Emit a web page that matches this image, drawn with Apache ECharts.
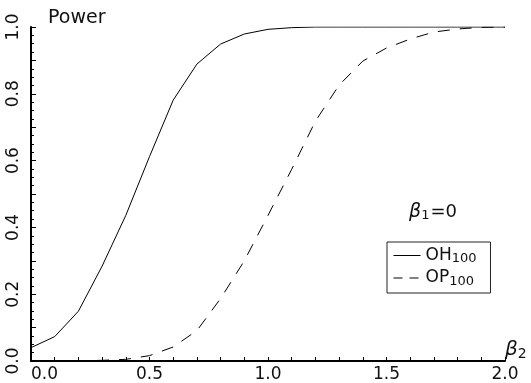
<!DOCTYPE html>
<html>
<head>
<meta charset="utf-8">
<script src="https://cdn.jsdelivr.net/npm/echarts@6/dist/echarts.min.js"></script>
<style>
  html, body {margin: 0; padding: 0; background: #fff;}
  #chart {width: 531px; height: 383px;}
</style>
</head>
<body>
<div id="chart"></div>
<script>
// beta2 grid and power values
const beta2 = [0.0, 0.1, 0.2, 0.3, 0.4, 0.5, 0.6, 0.7, 0.8, 0.9, 1.0,
               1.1, 1.2, 1.3, 1.4, 1.5, 1.6, 1.7, 1.8, 1.9, 2.0]
const oh100 = [0.04, 0.073, 0.149, 0.284, 0.436, 0.612, 0.781, 0.889, 0.949, 0.979, 0.993,
               0.998, 1.0, 1.0, 1.0, 1.0, 1.0, 1.0, 1.0, 1.0, 1.0]
const op100 = [0.0, 0.0, 0.001, 0.002, 0.005, 0.016, 0.042, 0.091, 0.187, 0.300, 0.436,
               0.574, 0.718, 0.826, 0.898, 0.937, 0.964, 0.985, 0.994, 0.999, 1.0]
const xTickLabels = ['0.0', '0.5', '1.0', '1.5', '2.0']
const yTickLabels = ['0.0', '0.2', '0.4', '0.6', '0.8', '1.0']

const font = 'DejaVu Sans'
const ink = '#111'

const chart = echarts.init(document.getElementById('chart'))

const pairs = (ys) => beta2.map((x, i) => [x, ys[i]])

const option = {
    animation: false,
    textStyle: {fontFamily: font, color: ink},
    grid: {left: 31, right: 26, top: 27, bottom: 22},
    title: {
        text: 'Power',
        left: 43, top: 4,
        textStyle: {fontFamily: font, fontSize: 19, fontWeight: 'normal', color: ink}
    },
    legend: {
        orient: 'vertical',
        left: 387, top: 242,
        padding: [5, 14, 5, 6],
        itemGap: 4,
        itemWidth: 27,
        itemHeight: 14,
        itemTextGap: 10,
        borderColor: '#222',
        borderWidth: 1,
        backgroundColor: '#fff',
        itemStyle: {opacity: 0},
        data: [
            {name: 'OH100', lineStyle: {width: 1, type: 'solid'}},
            {name: 'OP100', lineStyle: {width: 1, type: [9, 7]}}
        ],
        formatter: (name) => '{n|' + name.slice(0, 2) + '}{s|' + name.slice(2) + '}',
        textStyle: {
            rich: {
                n: {fontFamily: font, fontSize: 17, color: ink},
                s: {fontFamily: font, fontSize: 13, color: ink, padding: [7, 0, 0, 0]}
            }
        }
    },
    graphic: [{
        type: 'text',
        left: 409, top: 203,
        style: {
            text: '{b|β}{s|1}{n|=0}',
            rich: {
                b: {fontFamily: font, fontSize: 19, fontStyle: 'italic', fill: ink},
                s: {fontFamily: font, fontSize: 13, fill: ink, padding: [7, 1, 0, 0]},
                n: {fontFamily: font, fontSize: 18, fill: ink}
            }
        }
    }],
    xAxis: {
        type: 'value',
        min: 0, max: 2, interval: 0.1,
        name: '{b|β}{s|2}',
        nameLocation: 'end',
        nameGap: 0,
        nameTextStyle: {
            align: 'left',
            verticalAlign: 'bottom',
            rich: {
                b: {fontFamily: font, fontSize: 20, fontStyle: 'italic', color: ink},
                s: {fontFamily: font, fontSize: 14, color: ink, padding: [8, 0, 0, 0]}
            }
        },
        splitLine: {show: false},
        axisLine: {lineStyle: {color: '#000', width: 2}},
        axisTick: {inside: true, length: 4, lineStyle: {color: '#000'}},
        axisLabel: {
            fontFamily: font, fontSize: 17, color: ink, margin: 5,
            alignMinLabel: 'left',
            formatter: (v) => xTickLabels.includes(v.toFixed(1)) ? v.toFixed(1) : ''
        }
    },
    yAxis: {
        type: 'value',
        min: 0, max: 1, interval: 0.1,
        splitLine: {show: false},
        axisLine: {show: true, lineStyle: {color: '#000', width: 2}},
        axisTick: {show: true, inside: true, length: 5, lineStyle: {color: '#000'}},
        minorTick: {show: true, splitNumber: 4, length: 3, lineStyle: {color: '#000'}},
        axisLabel: {
            fontFamily: font, fontSize: 17, color: ink, rotate: 90, margin: 9,
            formatter: (v) => yTickLabels.includes(v.toFixed(1)) ? v.toFixed(1) : ''
        }
    },
    series: [
        {
            name: 'OH100',
            type: 'line',
            data: pairs(oh100),
            symbol: 'none',
            lineStyle: {color: '#000', width: 1},
            itemStyle: {color: '#000'}
        },
        {
            name: 'OP100',
            type: 'line',
            data: pairs(op100),
            symbol: 'none',
            lineStyle: {color: '#000', width: 1, type: [12, 10]},
            itemStyle: {color: '#000'}
        }
    ]
}
chart.setOption(option)
</script>
</body>
</html>
